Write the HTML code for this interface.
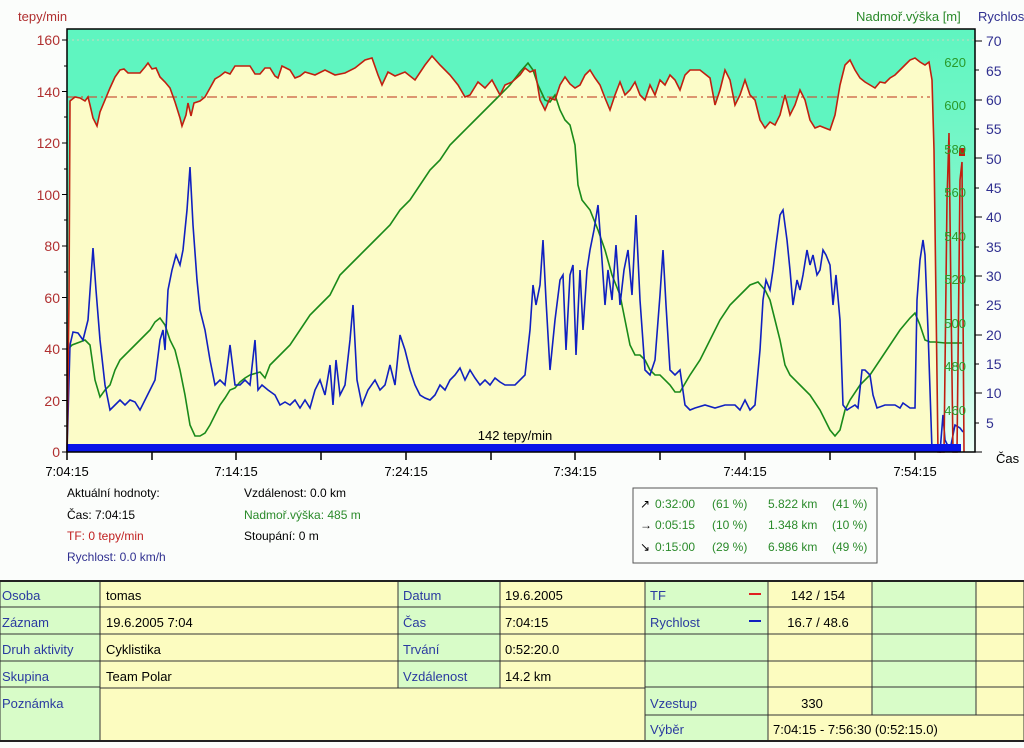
<!DOCTYPE html>
<html><head><meta charset="utf-8"><style>
body{margin:0;background:#fbfdfb;width:1024px;height:743px;overflow:hidden;font-family:"Liberation Sans",sans-serif}
svg text{font-family:"Liberation Sans",sans-serif}
</style></head><body>
<svg width="1024" height="743" viewBox="0 0 1024 743" xmlns="http://www.w3.org/2000/svg">
<defs>
<linearGradient id="g" x1="0" y1="0" x2="0" y2="1">
<stop offset="0" stop-color="#5ff5c0"/><stop offset="0.6" stop-color="#8ff8d0"/><stop offset="1" stop-color="#f0fff8"/>
</linearGradient>
</defs>
<rect x="67" y="29" width="908" height="423" fill="#5ff5c0"/>
<rect x="930" y="29" width="45" height="423" fill="url(#g)"/>
<polygon fill="#fcfcc8" points="67,452 69,300 70,101 75,97 80,98 85,101 88,97 90,105 93,118 97,126 100,112 105,100 110,88 115,77 120,70 124,69 128,73 140,73 145,67 148,63 152,69 156,68 160,77 165,82 170,88 175,102 180,118 182,126 186,115 188,103 191,116 194,103 200,101 205,97 210,88 215,79 220,76 225,72 230,74 235,66 250,66 255,74 260,74 265,68 270,68 275,76 278,78 282,66 290,70 295,78 300,76 305,72 315,75 325,70 335,75 345,73 355,68 365,60 372,58 378,75 382,85 388,72 395,76 405,72 415,80 425,65 432,56 440,65 450,75 458,85 465,97 470,95 478,82 485,88 492,80 500,95 505,85 512,82 520,75 525,68 530,72 535,70 540,100 545,110 550,98 555,100 560,85 565,77 570,84 575,88 580,85 585,75 590,70 595,78 600,85 605,98 610,110 615,95 620,82 625,95 630,90 635,82 640,95 645,100 650,85 655,95 660,80 665,85 670,75 675,80 680,90 685,75 690,70 700,70 710,78 715,105 720,90 725,70 730,80 735,105 740,95 745,80 750,95 755,100 760,120 765,128 770,122 775,125 780,115 785,95 790,115 795,105 800,90 805,100 810,120 815,128 820,126 825,128 830,130 835,115 840,85 845,65 850,60 855,70 860,78 865,82 870,85 875,88 880,82 885,83 890,78 895,75 900,70 905,65 910,60 915,58 920,62 925,65 929,62 932,80 934,150 938,452"/>
<g stroke="#c8d8c0" stroke-dasharray="2,3" stroke-width="1">
<line x1="67" y1="40" x2="975" y2="40"/>
</g>
<line x1="67" y1="97" x2="930" y2="97" stroke="#c85a3c" stroke-width="1.2" stroke-dasharray="10,4,2,4"/>
<polyline fill="none" stroke="#1a8a1a" stroke-width="1.6" points="67,350 72,345 80,342 85,340 90,345 95,380 100,397 105,390 110,385 115,370 120,360 125,355 130,350 140,340 150,330 155,322 160,318 165,325 170,340 175,350 180,370 185,395 190,425 195,436 200,436 205,433 210,425 215,415 220,405 225,398 230,390 235,388 240,382 245,378 250,375 260,372 265,378 270,365 280,355 290,345 300,330 310,315 320,305 330,295 340,275 350,265 360,255 370,245 380,235 390,225 400,210 410,200 420,185 430,170 440,160 450,145 460,135 470,125 480,115 490,105 500,95 510,85 520,72 528,63 533,70 538,85 545,100 550,102 555,95 560,110 565,120 570,125 575,145 578,185 582,200 590,210 598,230 605,250 612,275 620,295 625,320 630,345 635,355 640,355 645,360 650,370 655,375 660,375 670,385 675,392 680,392 690,375 700,360 710,340 720,320 730,305 740,295 750,285 758,282 765,290 770,300 775,320 780,340 785,365 790,375 800,385 810,395 820,410 830,430 835,436 840,430 845,410 850,400 860,385 870,375 880,360 890,345 900,330 910,318 915,313 920,325 925,340 930,342 935,342 945,343 962,343"/>
<polyline fill="none" stroke="#1020c0" stroke-width="1.6" points="67,452 70,345 73,332 78,333 83,340 88,320 93,248 96,290 100,340 105,385 110,410 115,405 120,400 125,405 130,400 135,402 140,410 145,400 150,390 155,380 160,340 163,330 165,350 168,290 172,270 176,255 180,265 183,250 187,210 190,167 193,225 197,280 200,310 205,330 210,360 215,385 220,380 225,385 230,345 235,385 240,385 245,380 250,385 255,340 258,390 262,385 268,390 275,395 280,405 285,402 290,405 295,400 300,408 305,400 310,408 315,390 320,380 325,395 330,365 333,405 336,360 340,395 345,385 350,340 353,305 357,380 362,405 368,390 375,380 380,390 385,385 390,365 395,385 400,335 405,350 410,370 415,385 420,395 425,398 430,400 435,395 440,385 445,390 450,380 455,375 460,368 465,380 470,370 475,378 480,385 485,380 490,385 495,378 500,382 505,385 515,385 525,375 530,330 533,285 536,305 540,285 543,240 546,300 550,370 555,320 560,280 563,275 566,350 570,275 573,265 576,355 580,270 583,330 587,270 590,250 594,230 598,205 601,245 605,305 608,270 612,300 616,245 620,305 624,270 628,250 632,295 636,215 640,300 645,370 650,375 655,360 660,295 663,250 666,305 670,370 675,375 680,370 685,405 690,410 695,408 705,405 715,408 725,405 735,405 740,410 745,400 750,410 755,405 760,350 763,300 766,280 770,290 773,270 776,245 780,215 783,210 787,240 790,270 793,305 797,280 800,290 803,275 807,250 810,265 813,255 817,275 820,270 823,250 826,255 830,265 833,305 836,275 840,320 843,405 847,410 850,408 855,405 858,408 862,370 865,370 870,375 873,395 877,408 885,405 895,405 900,408 903,403 910,408 915,408 917,300 920,260 923,240 925,255 928,330 932,450 940,452 943,415 945,440 950,450 955,425 960,428 963,432"/>
<polyline fill="none" stroke="#c02010" stroke-width="1.6" points="67,452 69,300 70,101 75,97 80,98 85,101 88,97 90,105 93,118 97,126 100,112 105,100 110,88 115,77 120,70 124,69 128,73 140,73 145,67 148,63 152,69 156,68 160,77 165,82 170,88 175,102 180,118 182,126 186,115 188,103 191,116 194,103 200,101 205,97 210,88 215,79 220,76 225,72 230,74 235,66 250,66 255,74 260,74 265,68 270,68 275,76 278,78 282,66 290,70 295,78 300,76 305,72 315,75 325,70 335,75 345,73 355,68 365,60 372,58 378,75 382,85 388,72 395,76 405,72 415,80 425,65 432,56 440,65 450,75 458,85 465,97 470,95 478,82 485,88 492,80 500,95 505,85 512,82 520,75 525,68 530,72 535,70 540,100 545,110 550,98 555,100 560,85 565,77 570,84 575,88 580,85 585,75 590,70 595,78 600,85 605,98 610,110 615,95 620,82 625,95 630,90 635,82 640,95 645,100 650,85 655,95 660,80 665,85 670,75 675,80 680,90 685,75 690,70 700,70 710,78 715,105 720,90 725,70 730,80 735,105 740,95 745,80 750,95 755,100 760,120 765,128 770,122 775,125 780,115 785,95 790,115 795,105 800,90 805,100 810,120 815,128 820,126 825,128 830,130 835,115 840,85 845,65 850,60 855,70 860,78 865,82 870,85 875,88 880,82 885,83 890,78 895,75 900,70 905,65 910,60 915,58 920,62 925,65 929,62 932,80 934,150 938,452 944,452 947,200 949,133 951,300 953,452 957,452 960,180 962,162 964,452"/>
<rect x="959" y="148" width="6" height="8" fill="#c02010"/>
<rect x="67" y="444" width="894" height="8" fill="#0a14e8"/>
<text x="515" y="440" font-size="13" text-anchor="middle" fill="#000">142 tepy/min</text>
<rect x="67" y="29" width="908" height="423" fill="none" stroke="#000" stroke-width="1.5"/>
<g font-size="14" fill="#b03030" text-anchor="end">
<text x="60" y="45">160</text><text x="60" y="97">140</text><text x="60" y="148">120</text><text x="60" y="200">100</text><text x="60" y="251">80</text><text x="60" y="303">60</text><text x="60" y="354">40</text><text x="60" y="406">20</text><text x="60" y="457">0</text>
</g>
<text x="18" y="21" font-size="13" fill="#b03030">tepy/min</text>
<g stroke="#000" stroke-width="1">
<line x1="62" y1="40" x2="67" y2="40"/><line x1="62" y1="91.5" x2="67" y2="91.5"/><line x1="62" y1="143" x2="67" y2="143"/><line x1="62" y1="194.5" x2="67" y2="194.5"/><line x1="62" y1="246" x2="67" y2="246"/><line x1="62" y1="297.5" x2="67" y2="297.5"/><line x1="62" y1="349" x2="67" y2="349"/><line x1="62" y1="400.5" x2="67" y2="400.5"/><line x1="62" y1="452" x2="67" y2="452"/>
<line x1="64" y1="66" x2="67" y2="66"/><line x1="64" y1="117" x2="67" y2="117"/><line x1="64" y1="169" x2="67" y2="169"/><line x1="64" y1="220" x2="67" y2="220"/><line x1="64" y1="272" x2="67" y2="272"/><line x1="64" y1="323" x2="67" y2="323"/><line x1="64" y1="375" x2="67" y2="375"/><line x1="64" y1="426" x2="67" y2="426"/>
</g>
<g font-size="13" fill="#2a9a2a" text-anchor="end">
<text x="966" y="67">620</text><text x="966" y="110">600</text><text x="966" y="154">580</text><text x="966" y="197">560</text><text x="966" y="241">540</text><text x="966" y="284">520</text><text x="966" y="328">500</text><text x="966" y="371">480</text><text x="966" y="415">460</text>
</g>
<g stroke="#000" stroke-width="1">
<line x1="975" y1="41" x2="982" y2="41"/><line x1="975" y1="100" x2="982" y2="100"/><line x1="975" y1="158" x2="982" y2="158"/><line x1="975" y1="217" x2="982" y2="217"/><line x1="975" y1="276" x2="982" y2="276"/><line x1="975" y1="335" x2="982" y2="335"/><line x1="975" y1="393" x2="982" y2="393"/><line x1="975" y1="452" x2="982" y2="452"/>
<line x1="975" y1="70" x2="979" y2="70"/><line x1="975" y1="129" x2="979" y2="129"/><line x1="975" y1="188" x2="979" y2="188"/><line x1="975" y1="247" x2="979" y2="247"/><line x1="975" y1="305" x2="979" y2="305"/><line x1="975" y1="364" x2="979" y2="364"/><line x1="975" y1="423" x2="979" y2="423"/>
</g>
<g font-size="14" fill="#303090">
<text x="986" y="46">70</text><text x="986" y="76">65</text><text x="986" y="105">60</text><text x="986" y="134">55</text><text x="986" y="164">50</text><text x="986" y="193">45</text><text x="986" y="222">40</text><text x="986" y="252">35</text><text x="986" y="281">30</text><text x="986" y="310">25</text><text x="986" y="340">20</text><text x="986" y="369">15</text><text x="986" y="398">10</text><text x="986" y="428">5</text>
</g>
<text x="856" y="21" font-size="13" fill="#2a8a2a">Nadmoř.výška [m]</text>
<text x="978" y="21" font-size="13" fill="#303090">Rychlost</text>
<text x="996" y="463" font-size="13" fill="#000">Čas</text>
<g stroke="#000" stroke-width="1.5">
<line x1="67" y1="452" x2="67" y2="460"/><line x1="152" y1="452" x2="152" y2="460"/><line x1="236" y1="452" x2="236" y2="460"/><line x1="321" y1="452" x2="321" y2="460"/><line x1="406" y1="452" x2="406" y2="460"/><line x1="491" y1="452" x2="491" y2="460"/><line x1="575" y1="452" x2="575" y2="460"/><line x1="660" y1="452" x2="660" y2="460"/><line x1="745" y1="452" x2="745" y2="460"/><line x1="830" y1="452" x2="830" y2="460"/><line x1="915" y1="452" x2="915" y2="460"/>
</g>
<g font-size="13" fill="#000" text-anchor="middle">
<text x="67" y="476">7:04:15</text><text x="236" y="476">7:14:15</text><text x="406" y="476">7:24:15</text><text x="575" y="476">7:34:15</text><text x="745" y="476">7:44:15</text><text x="915" y="476">7:54:15</text>
</g>
<g font-size="12">
<text x="67" y="497" fill="#000">Aktuální hodnoty:</text>
<text x="67" y="519" fill="#000">Čas: 7:04:15</text>
<text x="67" y="540" fill="#c02020">TF: 0 tepy/min</text>
<text x="67" y="561" fill="#303090">Rychlost: 0.0 km/h</text>
<text x="244" y="497" fill="#000">Vzdálenost: 0.0 km</text>
<text x="244" y="519" fill="#2a8a2a">Nadmoř.výška: 485 m</text>
<text x="244" y="540" fill="#000">Stoupání: 0 m</text>
</g>
<rect x="633" y="488" width="244" height="75" fill="#fbfdfb" stroke="#555" stroke-width="1"/>
<g font-size="12" fill="#2a8a2a">
<text x="640" y="508" fill="#000">↗</text><text x="655" y="508">0:32:00</text><text x="712" y="508">(61 %)</text><text x="768" y="508">5.822 km</text><text x="832" y="508">(41 %)</text>
<text x="640" y="529" fill="#000">→</text><text x="655" y="529">0:05:15</text><text x="712" y="529">(10 %)</text><text x="768" y="529">1.348 km</text><text x="832" y="529">(10 %)</text>
<text x="640" y="551" fill="#000">↘</text><text x="655" y="551">0:15:00</text><text x="712" y="551">(29 %)</text><text x="768" y="551">6.986 km</text><text x="832" y="551">(49 %)</text>
</g>
<g stroke="#333" stroke-width="1">
<rect x="0" y="581" width="100" height="160" fill="#d8fcc8"/>
<rect x="100" y="581" width="298" height="107" fill="#fcfcc0"/>
<rect x="100" y="688" width="545" height="53" fill="#fcfcc0"/>
<rect x="398" y="581" width="102" height="107" fill="#d8fcc8"/>
<rect x="500" y="581" width="145" height="107" fill="#fcfcc0"/>
<rect x="645" y="581" width="123" height="160" fill="#d8fcc8"/>
<rect x="768" y="581" width="104" height="134" fill="#fcfcc0"/>
<rect x="872" y="581" width="104" height="134" fill="#d8fcc8"/>
<rect x="976" y="581" width="48" height="134" fill="#fcfcc0"/>
<rect x="768" y="715" width="256" height="26" fill="#fcfcc0"/>
<line x1="0" y1="607" x2="100" y2="607"/><line x1="0" y1="634" x2="100" y2="634"/><line x1="0" y1="661" x2="100" y2="661"/><line x1="0" y1="687" x2="100" y2="687"/>
<line x1="100" y1="607" x2="1024" y2="607"/><line x1="100" y1="634" x2="1024" y2="634"/><line x1="100" y1="661" x2="1024" y2="661"/><line x1="645" y1="687" x2="1024" y2="687"/>
<line x1="645" y1="715" x2="1024" y2="715"/>
</g>
<line x1="0" y1="581" x2="1024" y2="581" stroke="#222" stroke-width="2"/>
<line x1="0" y1="741" x2="1024" y2="741" stroke="#222" stroke-width="2"/>
<g font-size="13" fill="#2a3aa0">
<text x="2" y="600">Osoba</text><text x="2" y="627">Záznam</text><text x="2" y="654">Druh aktivity</text><text x="2" y="681">Skupina</text><text x="2" y="708">Poznámka</text>
<text x="403" y="600">Datum</text><text x="403" y="627">Čas</text><text x="403" y="654">Trvání</text><text x="403" y="681">Vzdálenost</text>
<text x="650" y="600">TF</text><text x="650" y="627">Rychlost</text><text x="650" y="708">Vzestup</text><text x="650" y="734">Výběr</text>
</g>
<g font-size="13" fill="#000">
<text x="106" y="600">tomas</text><text x="106" y="627">19.6.2005 7:04</text><text x="106" y="654">Cyklistika</text><text x="106" y="681">Team Polar</text>
<text x="505" y="600">19.6.2005</text><text x="505" y="627">7:04:15</text><text x="505" y="654">0:52:20.0</text><text x="505" y="681">14.2 km</text>
<text x="818" y="600" text-anchor="middle">142 / 154</text><text x="818" y="627" text-anchor="middle">16.7 / 48.6</text><text x="812" y="708" text-anchor="middle">330</text>
<text x="773" y="734">7:04:15 - 7:56:30 (0:52:15.0)</text>
</g>
<line x1="749" y1="594" x2="761" y2="594" stroke="#e02020" stroke-width="2"/>
<line x1="749" y1="621" x2="761" y2="621" stroke="#1020c0" stroke-width="2"/>
</svg>
</body></html>
